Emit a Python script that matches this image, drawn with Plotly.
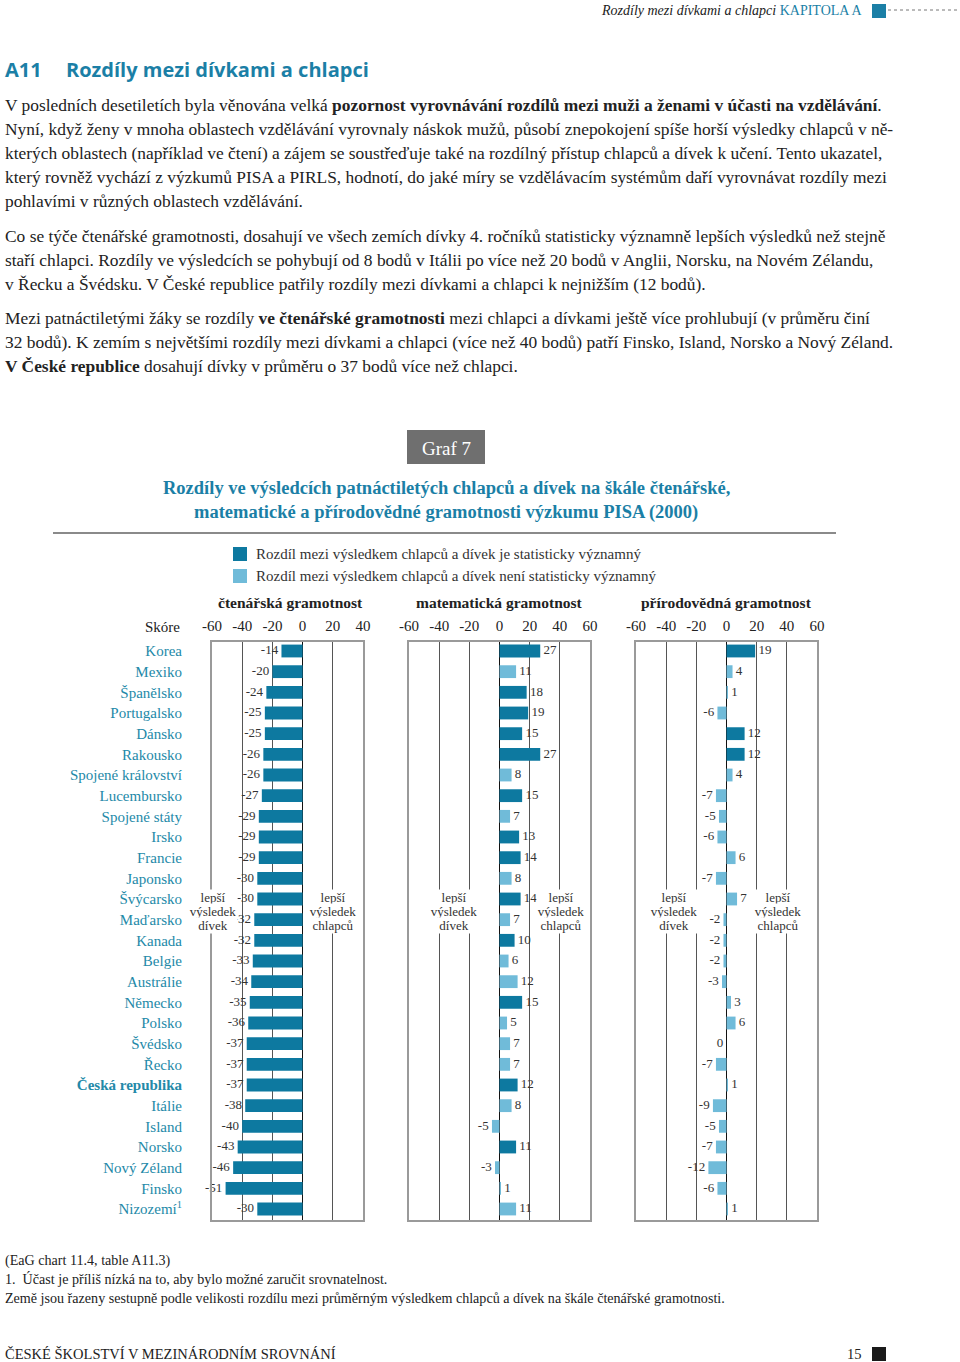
import plotly.graph_objects as go

# ---------------- data ----------------
countries = ["Korea", "Mexiko", "Španělsko", "Portugalsko", "Dánsko", "Rakousko",
             "Spojené království", "Lucembursko", "Spojené státy", "Irsko", "Francie",
             "Japonsko", "Švýcarsko", "Maďarsko", "Kanada", "Belgie", "Austrálie",
             "Německo", "Polsko", "Švédsko", "Řecko", "Česká republika", "Itálie",
             "Island", "Norsko", "Nový Zéland", "Finsko", "Nizozemí"]
footnoted = ["Nizozemí"]
highlight = ["Česká republika"]

reading = [-14, -20, -24, -25, -25, -26, -26, -27, -29, -29, -29, -30, -30, -32,
           -32, -33, -34, -35, -36, -37, -37, -37, -38, -40, -43, -46, -51, -30]
reading_sig = [1] * 28

math = [27, 11, 18, 19, 15, 27, 8, 15, 7, 13, 14, 8, 14, 7,
        10, 6, 12, 15, 5, 7, 7, 12, 8, -5, 11, -3, 1, 11]
math_sig = [1, 0, 1, 1, 1, 1, 0, 1, 0, 1, 1, 0, 1, 0,
            1, 0, 0, 1, 0, 0, 0, 1, 0, 0, 1, 0, 0, 0]

science = [19, 4, 1, -6, 12, 12, 4, -7, -5, -6, 6, -7, 7, -2,
           -2, -2, -3, 3, 6, 0, -7, 1, -9, -5, -7, -12, -6, 1]
science_sig = [1, 0, 0, 0, 1, 1, 0, 0, 0, 0, 0, 0, 0, 0,
               0, 0, 0, 0, 0, 0, 0, 0, 0, 0, 0, 0, 0, 0]

panel_titles = ["čtenářská gramotnost", "matematická gramotnost", "přírodovědná gramotnost"]
x_ranges = [(-60, 40), (-60, 60), (-60, 60)]
tick_vals = [-60, -40, -20, 0, 20, 40, 60]
legend_names = ["Rozdíl mezi výsledkem chlapců a dívek je statisticky významný",
                "Rozdíl mezi výsledkem chlapců a dívek není statisticky významný"]

# ---------------- style ----------------
W, H = 960, 1362
SERIF = "Liberation Serif, Times New Roman, serif"
DARK = "#0d79a0"
LIGHT = "#70bbd9"
TEAL = "#1b7fa6"
LABEL_TEAL = "#2389a8"


def px(x):
    return x / W


def py(y):
    return 1 - y / H


panel_px = [(212, 363), (409, 590), (636, 817)]
box_top, box_bot = 642, 1220
row0, rowN = 651, 1209
n = len(countries)
step = (rowN - row0) / (n - 1)
y_range = [(n - 1) + (box_bot - rowN) / step, -(row0 - box_top) / step]


def row_of(ypix):
    return (ypix - row0) / step


rows = list(range(n))
fig = go.Figure()

panels = [reading, math, science]
sigs = [reading_sig, math_sig, science_sig]

for p, (vals, sig) in enumerate(zip(panels, sigs)):
    xa = "x" if p == 0 else f"x{p+1}"
    ya = "y" if p == 0 else f"y{p+1}"
    dark_x = [v if s else None for v, s in zip(vals, sig)]
    light_x = [None if s else v for v, s in zip(vals, sig)]
    fig.add_trace(go.Bar(x=dark_x, y=rows, orientation="h", width=0.62,
                         marker=dict(color=DARK, line=dict(width=0)),
                         name=legend_names[0], showlegend=False,
                         xaxis=xa, yaxis=ya, hoverinfo="skip"))
    fig.add_trace(go.Bar(x=light_x, y=rows, orientation="h", width=0.62,
                         marker=dict(color=LIGHT, line=dict(width=0)),
                         name=legend_names[1], showlegend=False,
                         xaxis=xa, yaxis=ya, hoverinfo="skip"))
    fig.add_trace(go.Scatter(x=vals, y=rows, mode="text",
                             text=[(" " + str(v)) if v > 0 else (str(v) + " ") for v in vals],
                             textposition=["middle right" if v > 0 else "middle left" for v in vals],
                             textfont=dict(family=SERIF, size=13, color="#333333"),
                             showlegend=False, xaxis=xa, yaxis=ya,
                             cliponaxis=False, hoverinfo="skip"))

ticktext = []
for c in countries:
    if c in highlight:
        ticktext.append(f"<b>{c}</b>")
    elif c in footnoted:
        ticktext.append(f"{c}<sup>1</sup>")
    else:
        ticktext.append(c)

layout = dict(
    width=W, height=H,
    margin=dict(l=0, r=0, t=0, b=0, pad=0, autoexpand=False),
    paper_bgcolor="white", plot_bgcolor="white",
    barmode="overlay",
    showlegend=False,
    font=dict(family=SERIF, size=15, color="#222222"),
)

for p in range(3):
    xk = "xaxis" if p == 0 else f"xaxis{p+1}"
    yk = "yaxis" if p == 0 else f"yaxis{p+1}"
    yid = "y" if p == 0 else f"y{p+1}"
    xid = "x" if p == 0 else f"x{p+1}"
    lo, hi = x_ranges[p]
    tv = [t for t in tick_vals if lo <= t <= hi]
    layout[xk] = dict(domain=[px(panel_px[p][0]), px(panel_px[p][1])],
                      range=[lo, hi], anchor=yid, side="top", automargin=False,
                      tickvals=tv, ticktext=[str(t) for t in tv],
                      ticks="", ticklabelstandoff=3,
                      tickfont=dict(family=SERIF, size=15, color="#222222"),
                      showgrid=True, gridcolor="#555555", gridwidth=1,
                      zeroline=True, zerolinecolor="#111111", zerolinewidth=1.6,
                      showline=True, mirror=True, linecolor="#9a9a9a", linewidth=2,
                      fixedrange=True)
    ydict = dict(domain=[py(box_bot), py(box_top)], range=y_range, anchor=xid,
                 automargin=False, showgrid=False, zeroline=False,
                 showline=True, mirror=True, linecolor="#9a9a9a", linewidth=2,
                 fixedrange=True)
    if p == 0:
        ydict.update(tickvals=rows, ticktext=ticktext, ticks="",
                     ticklabelstandoff=25,
                     tickfont=dict(family=SERIF, size=15, color=LABEL_TEAL))
    else:
        ydict.update(showticklabels=False, matches="y")
    layout[yk] = ydict

fig.update_layout(**layout)

ann = []
shapes = []


def text(x, y, s, size=15, color="#222222", xanchor="left", family=SERIF, **kw):
    ann.append(dict(x=px(x), y=py(y), xref="paper", yref="paper", text=s,
                    showarrow=False, xanchor=xanchor, yanchor="middle",
                    font=dict(family=family, size=size, color=color), **kw))


# header
text(864, 11, f"<i>Rozdíly mezi dívkami a chlapci</i> <span style='color:{TEAL}'>KAPITOLA A</span>",
     size=14, xanchor="right")
shapes.append(dict(type="rect", xref="paper", yref="paper", x0=px(872), x1=px(886),
                   y0=py(18), y1=py(4), fillcolor=TEAL, line=dict(width=0)))
shapes.append(dict(type="line", xref="paper", yref="paper", x0=px(888), x1=px(960),
                   y0=py(10), y1=py(10), line=dict(color="#777777", width=1, dash="dot")))

# section heading
SANS = "Open Sans, DejaVu Sans, sans-serif"
text(3, 70, "<b>A11</b>", size=20, color=TEAL, family=SANS)
text(64, 70, "<b>Rozdíly mezi dívkami a chlapci</b>", size=20, color=TEAL, family=SANS)

body = [
    (105, "V posledních desetiletích byla věnována velká <b>pozornost vyrovnávání rozdílů mezi muži a ženami v účasti na vzdělávání</b>."),
    (129, "Nyní, když ženy v mnoha oblastech vzdělávání vyrovnaly náskok mužů, působí znepokojení spíše horší výsledky chlapců v ně-"),
    (153, "kterých oblastech (například ve čtení) a zájem se soustřeďuje také na rozdílný přístup chlapců a dívek k učení. Tento ukazatel,"),
    (177, "který rovněž vychází z výzkumů PISA a PIRLS, hodnotí, do jaké míry se vzdělávacím systémům daří vyrovnávat rozdíly mezi"),
    (201, "pohlavími v různých oblastech vzdělávání."),
    (236, "Co se týče čtenářské gramotnosti, dosahují ve všech zemích dívky 4. ročníků statisticky významně lepších výsledků než stejně"),
    (260, "staří chlapci. Rozdíly ve výsledcích se pohybují od 8 bodů v Itálii po více než 20 bodů v Anglii, Norsku, na Novém Zélandu,"),
    (284, "v Řecku a Švédsku. V České republice patřily rozdíly mezi dívkami a chlapci k nejnižším (12 bodů)."),
    (318, "Mezi patnáctiletými žáky se rozdíly <b>ve čtenářské gramotnosti</b> mezi chlapci a dívkami ještě více prohlubují (v průměru činí"),
    (342, "32 bodů). K zemím s největšími rozdíly mezi dívkami a chlapci (více než 40 bodů) patří Finsko, Island, Norsko a Nový Zéland."),
    (366, "<b>V České republice</b> dosahují dívky v průměru o 37 bodů více než chlapci."),
]
for yy, s in body:
    text(3, yy, s, size=17.4, color="#222222")

# Graf 7 box
shapes.append(dict(type="rect", xref="paper", yref="paper", x0=px(407), x1=px(485),
                   y0=py(464), y1=py(430), fillcolor="#6f6f6f", line=dict(width=0)))
text(446, 448, "Graf 7", size=19, color="white", xanchor="center")

# chart title
text(446, 488, "<b>Rozdíly ve výsledcích patnáctiletých chlapců a dívek na škále čtenářské,</b>",
     size=18.5, color=TEAL, xanchor="center")
text(446, 512, "<b>matematické a přírodovědné gramotnosti výzkumu PISA (2000)</b>",
     size=18.5, color=TEAL, xanchor="center")
shapes.append(dict(type="line", xref="paper", yref="paper", x0=px(53), x1=px(836),
                   y0=py(533), y1=py(533), line=dict(color="#8a8a8a", width=2)))

# legend (swatches + labels)
for (y0, y1), col, name in [((547, 561), DARK, legend_names[0]),
                            ((569, 583), LIGHT, legend_names[1])]:
    shapes.append(dict(type="rect", xref="paper", yref="paper", x0=px(233), x1=px(247),
                       y0=py(y1), y1=py(y0), fillcolor=col, line=dict(width=0)))
    text(254, (y0 + y1) / 2, name, size=15, color="#333333")

# panel titles
for (a, b), t in zip(panel_px, panel_titles):
    c = (a + b) / 2
    if t == panel_titles[0]:
        c = 290
    text(c, 602, f"<b>{t}</b>", size=15.5, color="#222222", xanchor="center")

text(182, 627, "Skóre", size=15, color="#222222", xanchor="right")

# "lepší výsledek" labels (white block behind the three lines)
side_labels = [(-59.3, 20.0), (-30.5, 41.0), (-35.0, 34.0)]
line_pix = [897, 911, 925]
for p, (xd, xc) in enumerate(side_labels):
    xa = "x" if p == 0 else f"x{p+1}"
    ya = "y" if p == 0 else f"y{p+1}"
    for xv, word in [(xd, "dívek"), (xc, "chlapců")]:
        for lp, w in zip(line_pix, ["lepší", "výsledek", word]):
            ann.append(dict(x=xv, y=row_of(lp), xref=xa, yref=ya,
                            text=w, showarrow=False, width=48, align="center",
                            xanchor="center", yanchor="middle",
                            bgcolor="white", borderpad=0,
                            font=dict(family=SERIF, size=13, color="#333333")))

# footnotes
text(3, 1260, "(EaG chart 11.4, table A11.3)", size=14.1)
text(3, 1279, "1.  Účast je příliš nízká na to, aby bylo možné zaručit srovnatelnost.", size=14.1)
text(3, 1298, "Země jsou řazeny sestupně podle velikosti rozdílu mezi průměrným výsledkem chlapců a dívek na škále čtenářské gramotnosti.", size=14.1)

# footer
text(3, 1354, "ČESKÉ ŠKOLSTVÍ V MEZINÁRODNÍM SROVNÁNÍ", size=14.5)
text(864, 1354, "15", size=14.5, xanchor="right")
shapes.append(dict(type="rect", xref="paper", yref="paper", x0=px(872), x1=px(886),
                   y0=py(1361), y1=py(1347), fillcolor="#1a1a1a", line=dict(width=0)))

fig.update_layout(annotations=ann, shapes=shapes)
fig.write_html("out.html", config={"displayModeBar": False, "staticPlot": True},
               post_script="document.body.style.margin='0px';document.body.style.overflow='hidden';")
